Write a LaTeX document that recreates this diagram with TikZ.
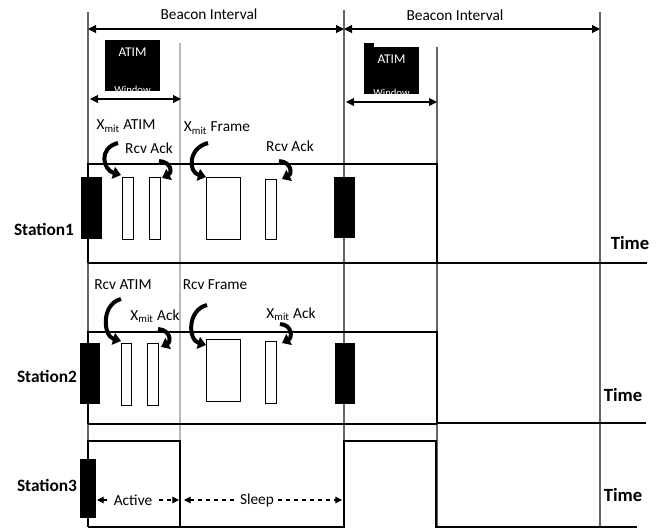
\documentclass[tikz,border=0pt]{standalone}
\usepackage{fontspec}
\setmainfont{Carlito}
\usepackage{tikz}
\usetikzlibrary{arrows.meta}
\tikzset{
  sig/.style={line width=2.2pt,line join=miter},
  base/.style={line width=1.2pt},
  grid/.style={gray!80!black,line width=0.8pt},
  lgrid/.style={gray!55,line width=0.8pt},
  blk/.style={fill=black},
  wbox/.style={draw=black,fill=white,line width=0.7pt},
  curv/.style={line width=3pt,-{Triangle[length=6pt,width=9pt]}},
  span/.style={line width=0.8pt,{Triangle[length=6pt,width=6pt]}-{Triangle[length=6pt,width=6pt]}},
  dspan/.style={line width=0.8pt,dash pattern=on 3pt off 3pt,{Triangle[length=5pt,width=5pt]}-{Triangle[length=5pt,width=5pt]}},
  lbl/.style={font=\fontsize{11.5}{13}\selectfont,inner sep=0pt},
  stn/.style={font=\fontsize{13}{15}\selectfont\bfseries,inner sep=0pt},
  tm/.style={font=\fontsize{14}{16}\selectfont\bfseries,inner sep=0pt}}
\newcommand{\wbox}[4]{\draw[wbox] (#1,#2) rectangle (#3,#4);}
\newcommand{\bbar}[4]{\fill[blk] (#1,#2) rectangle (#3,#4);}
% curved pointer, bulge to the left (#1 start, #2 end)
\newcommand{\curvl}[2]{%
  \draw[curv] (#1) .. controls ($(#1)+(-20,5)$) and ($(#2)+(-18,-5)$) .. (#2);}
% curved pointer, bulge to the right
\newcommand{\curvr}[2]{%
  \draw[curv] (#1) .. controls ($(#1)+(13,1)$) and ($(#2)+(10,-5)$) .. (#2);}
\usetikzlibrary{calc}
\newcommand{\atimwin}[5]{%
  \fill[blk] (#1,#2) rectangle (#3,#4);
  \begin{scope}
    \clip (#1,#2) rectangle (#3,#4);
    \node[text=white,font=\fontsize{10}{12}\selectfont,inner sep=0pt] (#5a) at ({(#1+#3)/2},{#2+12}) {ATIM};
    \node[text=white,font=\fontsize{8}{10}\selectfont,inner sep=0pt] (#5w) at ({(#1+#3)/2},{#4-1}) {Window};
  \end{scope}}

\begin{document}
\begin{tikzpicture}[x=0.75pt,y=-0.75pt]
  \useasboundingbox (0,0) rectangle (662,529);
  % beacon grid
  \draw[grid] (88,12) -- (88,527);
  \draw[lgrid] (180,43) -- (180,527);
  \draw[grid] (344,10) -- (344,527);
  \draw[grid] (437,47) -- (437,527);
  \draw[grid] (600,12) -- (600,527);
  \coordinate (b0) at (88,29); \coordinate (b1) at (344,29); \coordinate (b2) at (600,29);
  \draw[span] (b0) -- (b1);
  \draw[span] (b1) -- (b2);
  \node[lbl] (bi1) at (209,14) {Beacon Interval};
  \node[lbl] (bi2) at (455,15) {Beacon Interval};
  % ATIM windows
  \atimwin{105}{40}{160}{91}{w1}
  \fill[blk] (364,43) rectangle (374,48);
  \atimwin{364}{47}{419}{94}{w2}
  \coordinate (aw0) at (90,99); \coordinate (aw1) at (181,99);
  \coordinate (aw2) at (346,102); \coordinate (aw3) at (437,102);
  \draw[span] (aw0) -- (aw1);
  \draw[span] (aw2) -- (aw3);

  % Station1
  \draw[base] (88,263) -- (437,263);
  \draw[sig] (88,263) -- (88,164) -- (437,164) -- (437,263) -- (647,263);
  \bbar{81}{177}{102}{239} \bbar{334}{177}{355}{238}
  \wbox{122.7}{177}{133.3}{239} \wbox{149.3}{177}{160}{239}
  \wbox{206.7}{177}{240.3}{239} \wbox{265.3}{179}{276}{239}
  \node[stn] (st1) at (44,229) {Station1};
  \node[tm] (t1) at (630,243) {Time};
  \node[lbl] (x1) at (126,126) {X\textsubscript{mit} ATIM};
  \node[lbl] (r1) at (149,148) {Rcv Ack};
  \node[lbl] (x2) at (217,128) {X\textsubscript{mit} Frame};
  \node[lbl] (r2) at (290,146) {Rcv Ack};
  \coordinate (p1) at (118,143); \coordinate (q1) at (121,175);
  \coordinate (p2) at (159,161); \coordinate (q2) at (162,178);
  \coordinate (p3) at (208,143); \coordinate (q3) at (206,177);
  \coordinate (p4) at (279,161); \coordinate (q4) at (282,179);
  \curvl{p1}{q1} \curvr{p2}{q2} \curvl{p3}{q3} \curvr{p4}{q4}

  % Station2
  \draw[base] (88,424) -- (437,424);
  \draw[sig] (88,424) -- (88,332) -- (437,332) -- (437,423) -- (646,423);
  \bbar{80}{343}{100}{404} \bbar{335}{343}{355}{404}
  \wbox{121}{343}{131.7}{405} \wbox{147.7}{343}{158.3}{405}
  \wbox{206.7}{339}{240.3}{401} \wbox{265.3}{341}{276}{403}
  \node[stn] (st2) at (47,376) {Station2};
  \node[tm] (t2) at (623,395) {Time};
  \node[lbl] (r3) at (123,285) {Rcv ATIM};
  \node[lbl] (r4) at (215,285) {Rcv Frame};
  \node[lbl] (x3) at (155,316) {X\textsubscript{mit} Ack};
  \node[lbl] (x4) at (291,314) {X\textsubscript{mit} Ack};
  \coordinate (p5) at (121,299); \coordinate (q5) at (121,341);
  \coordinate (p6) at (158,329); \coordinate (q6) at (161,347);
  \coordinate (p7) at (207,305); \coordinate (q7) at (206,345);
  \coordinate (p8) at (280,324); \coordinate (q8) at (282,343);
  \curvl{p5}{q5} \curvr{p6}{q6} \curvl{p7}{q7} \curvr{p8}{q8}

  % Station3
  \draw[base] (88,527) -- (180,527);
  \draw[sig] (88,527) -- (88,441) -- (180,441) -- (180,527) -- (344,527)
    -- (344,441) -- (436,441) -- (436,527) -- (637,527);
  \bbar{80}{459}{96}{518}
  \node[stn] (st3) at (47,485) {Station3};
  \node[tm] (t3) at (623,495) {Time};
  \coordinate (a0) at (97,500); \coordinate (a1) at (179,500);
  \coordinate (s0) at (184,500); \coordinate (s1) at (342,500);
  \draw[dspan] (a0) -- (a1);
  \draw[dspan] (s0) -- (s1);
  \node[lbl,fill=white,inner xsep=2pt] (act) at (133,500) {Active};
  \node[lbl,fill=white,inner xsep=2pt] (slp) at (257,500) {Sleep};
\end{tikzpicture}
\end{document}
